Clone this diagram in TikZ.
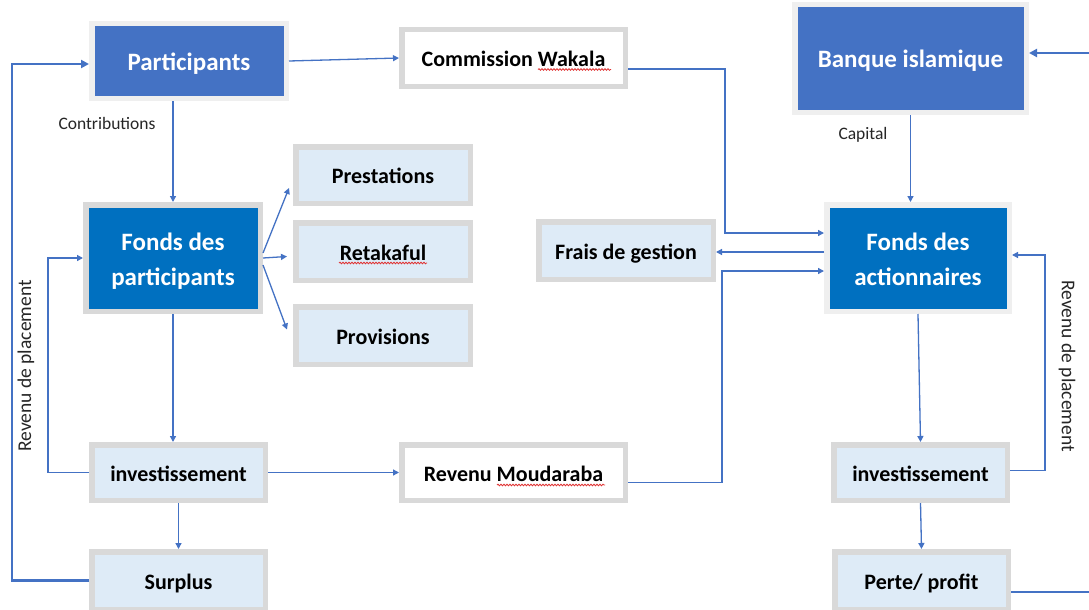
\documentclass[tikz,border=0pt]{standalone}
\usepackage{fontspec}
\setmainfont{Carlito}
\usetikzlibrary{arrows.meta,decorations.pathmorphing}
\definecolor{lineblue}{HTML}{4472C4}
\definecolor{darkblue}{HTML}{0070C0}
\definecolor{midblue}{HTML}{4472C4}
\definecolor{palefill}{HTML}{DEEBF7}
\definecolor{bordergray}{HTML}{D9D9D9}
\definecolor{borderlight}{HTML}{EFEFEF}
\definecolor{labeltext}{HTML}{262626}
\definecolor{squigred}{HTML}{E03030}
\tikzset{
  stdbox/.style={draw=bordergray, line width=5.5pt, inner sep=0pt,
    font=\fontsize{22}{26}\selectfont\bfseries, text=black, align=center,
    text height=19.5pt, text depth=2pt},
  palebox/.style={stdbox, fill=palefill},
  whitebox/.style={stdbox, fill=white},
  bluebox/.style={stdbox, draw=borderlight, text=white,
    font=\fontsize{25}{35}\selectfont\bfseries, text height=21pt, text depth=2.5pt},
  twoline/.style={text height=55pt, text depth=0pt},
  conn/.style={draw=lineblue, line width=1.3pt, -{Triangle[length=6pt,width=6pt]}},
  thickconn/.style={draw=lineblue, line width=2.6pt, -{Triangle[length=8pt,width=8pt]}},
  thickline/.style={draw=lineblue, line width=2.6pt},
  lbl/.style={font=\fontsize{17.5}{20}\selectfont, text=labeltext, inner sep=0pt},
  vlbl/.style={font=\fontsize{19.5}{22}\selectfont, text=labeltext, inner sep=0pt},
  squig/.style={draw=squigred, line width=0.8pt, decorate,
    decoration={snake, amplitude=0.8pt, segment length=3pt}}
}
\begin{document}
\begin{tikzpicture}[x=1pt,y=-1pt]
\fill[white] (0,0) rectangle (1089,610);
\useasboundingbox (0,0) rectangle (1089,610);

% left column
\node[bluebox, fill=midblue, minimum width=194.5pt, minimum height=74.5pt] (part) at (189,61) {Participants};
\node[bluebox, twoline, draw=bordergray, fill=darkblue, minimum width=174.5pt, minimum height=106.5pt] (fp) at (173,258) {Fonds des\\participants};
\node[palebox, minimum width=173.5pt, minimum height=55.5pt] (invL) at (178.5,472.5) {investissement};
\node[palebox, minimum width=173.5pt, minimum height=57.5pt] (surplus) at (178.5,580.5) {Surplus};

% middle column
\node[whitebox, minimum width=223.5pt, minimum height=56.5pt] (comm) at (513.5,58) {Commission Wakala};
\node[palebox, minimum width=174.5pt, minimum height=56.5pt] (prest) at (383,175) {Prestations};
\node[palebox, minimum width=174.5pt, minimum height=57.5pt] (retak) at (383,251.5) {Retakaful};
\node[palebox, minimum width=174.5pt, minimum height=57.5pt] (prov) at (383,335.5) {Provisions};
\node[whitebox, minimum width=223.5pt, minimum height=55.5pt] (rm) at (513.5,472.5) {Revenu Moudaraba};
\node[palebox, minimum width=174.5pt, minimum height=57.5pt] (frais) at (626,250.5) {Frais de gestion};

% right column
\node[bluebox, fill=midblue, minimum width=231.5pt, minimum height=107.5pt] (banque) at (910.5,58.5) {Banque islamique};
\node[bluebox, twoline, fill=darkblue, minimum width=182.5pt, minimum height=106.5pt] (fa) at (918,258) {Fonds des\\actionnaires};
\node[palebox, minimum width=173.5pt, minimum height=55.5pt] (invR) at (920.5,472.5) {investissement};
\node[palebox, minimum width=173.5pt, minimum height=57.5pt] (perte) at (921.5,580.5) {Perte/ profit};

% labels
\node[lbl] (lcontrib) at (107,123) {Contributions};
\node[lbl] (lcapital) at (863,135) {Capital};
\node[vlbl, rotate=90] (lrevL) at (26,366) {Revenu de placement};
\node[vlbl, rotate=-90] (lrevR) at (1067,366) {Revenu de placement};

% spell-check squiggles
\draw[squig] (538,69.5) -- (611,69.5);
\draw[squig] (339,263) -- (427,263);
\draw[squig] (497,485) -- (605,485);

% connectors, left part
\draw[conn] (part.east) -- (comm.west);
\draw[conn] (fp.north |- part.south) -- (fp.north);
\draw[conn] ([yshift=5pt]fp.east) -- ([shift={(-4,13)}]prest.west);
\draw[conn] (fp.east) -- ([shift={(-6,5)}]retak.west);
\draw[conn] ([yshift=-7pt]fp.east) -- ([shift={(-6,-6)}]prov.west);
\draw[conn] (fp.south) -- (fp.south |- invL.north);
\draw[conn] (invL.west) -- ++(-41,0) |- (fp.west);
\draw[conn] (invL.south) -- (surplus.north);
\draw[thickconn] (surplus.west) -- ++(-77,0) |- ([yshift=-3pt]part.west);
\draw[conn] (invL.east) -- (rm.west);

% connectors, right part
\draw[conn] ([yshift=-11pt]comm.east) -- ++(97,0) |- ([yshift=25pt]fa.west);
\draw[conn] ([yshift=6pt]fa.west) -- ([yshift=6pt]fa.west -| frais.east);
\draw[conn] ([yshift=-10pt]rm.east) -- ++(94,0) |- ([yshift=-13pt]fa.west);
\draw[conn] (banque.south) -- (banque.south |- fa.north);
\draw[conn] (fa.south) -- (invR.north);
\draw[conn] ([yshift=2pt]invR.east) -- ++(35,0) |- ([yshift=3pt]fa.east);
\draw[conn] (invR.south) -- (perte.north);
\coordinate (edgeR) at (1089,592);
\coordinate (edgeT) at (1089,53);
\draw[thickline] ([yshift=-11.5pt]perte.east) -- (edgeR);
\draw[thickconn] (edgeT) -- (banque.east |- edgeT);
\end{tikzpicture}
\end{document}
